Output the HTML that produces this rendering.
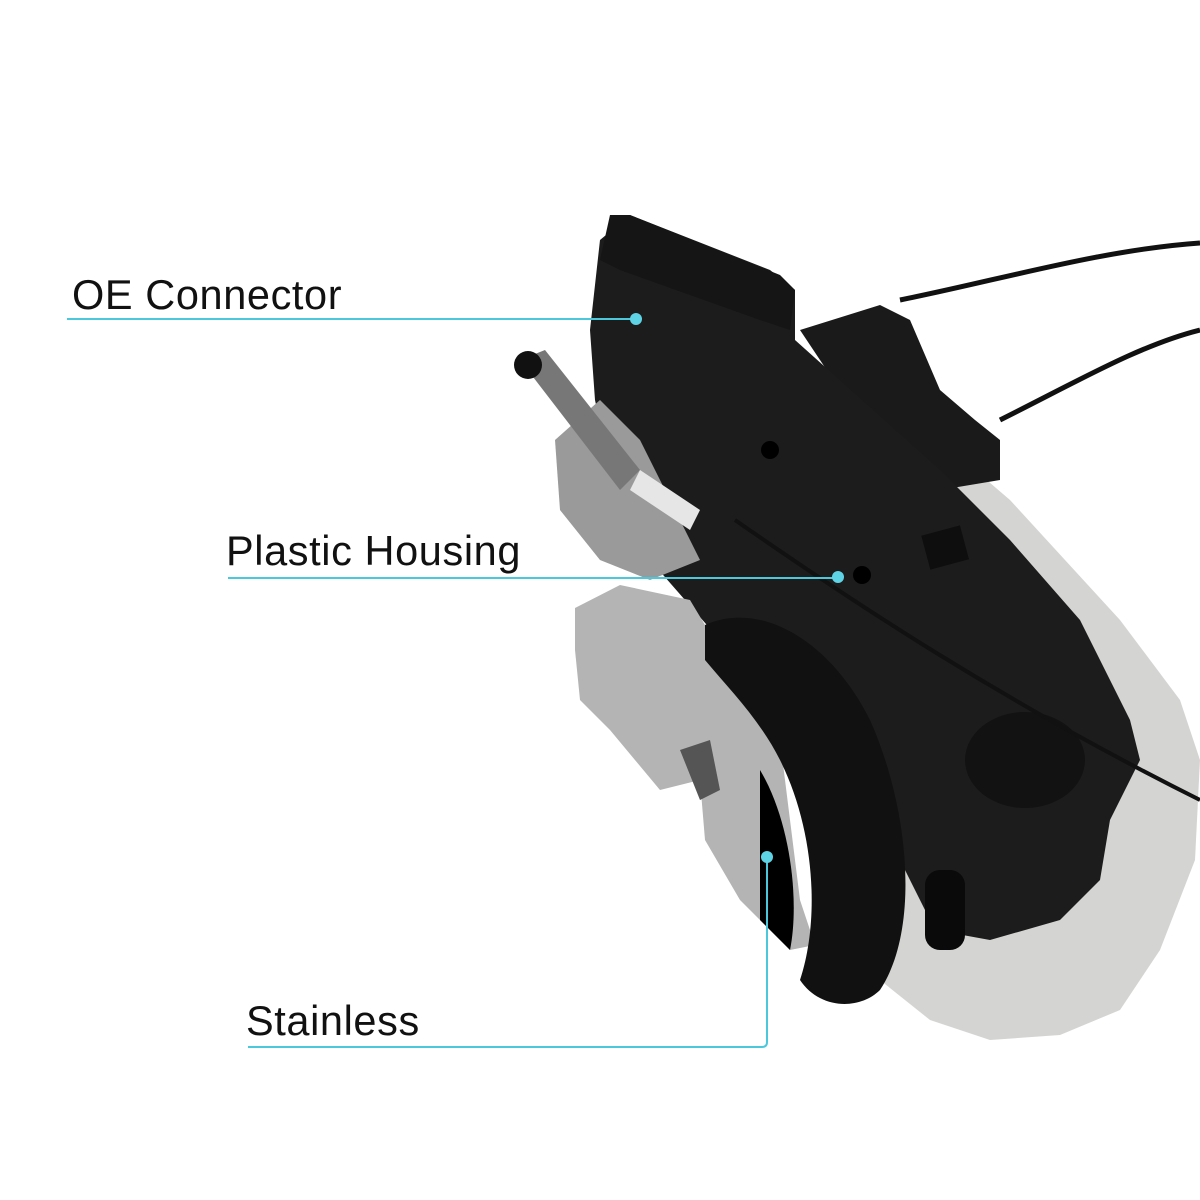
<!DOCTYPE html>
<html><head><meta charset="utf-8"><style>
html,body{margin:0;padding:0;background:#fff;}
.wrap{position:relative;width:1200px;height:1200px;overflow:hidden;background:#fff;}
.lbl{position:absolute;font-family:"Liberation Sans",sans-serif;font-size:41.5px;color:#111;letter-spacing:0.6px;line-height:1;}
</style></head><body><div class="wrap">
<svg width="1200" height="1200" viewBox="0 0 1200 1200" style="position:absolute;left:0;top:0">
<path d="M900 300 C1000 280 1100 250 1200 243" stroke="#111" stroke-width="5" fill="none"/>
<path d="M1000 420 C1080 380 1140 345 1200 330" stroke="#111" stroke-width="5" fill="none"/>
<path d="M930 480 L975 470 L1010 500 L1120 620 L1180 700 L1200 760 L1195 860 L1160 950 L1120 1010 L1060 1035 L990 1040 L930 1020 L880 980 L860 900 L900 700 Z" fill="#d4d4d2"/>
<path d="M800 330 L880 305 L910 320 L940 390 L975 420 L1000 440 L1000 480 L940 490 L880 450 Z" fill="#1a1a1a"/>
<path d="M600 240 L630 215 L770 270 L795 290 L795 340 L940 470 L1010 540 L1080 620 L1130 720 L1140 760 L1110 820 L1100 880 L1060 920 L990 940 L935 930 L900 860 L860 780 L800 700 L720 640 L650 560 L610 470 L595 400 L590 330 Z" fill="#1c1c1c"/>
<ellipse cx="1025" cy="760" rx="60" ry="48" fill="#121212"/>
<rect x="925" y="530" width="40" height="35" fill="#0e0e0e" transform="rotate(-15 945 547)"/>
<circle cx="770" cy="450" r="9" fill="#000"/><circle cx="862" cy="575" r="9" fill="#000"/>
<path d="M555 440 L600 400 L640 440 L680 520 L700 560 L650 580 L600 560 L560 510 Z" fill="#9a9a9a"/>
<path d="M520 360 L545 350 L640 470 L620 490 Z" fill="#777"/>
<circle cx="528" cy="365" r="14" fill="#111"/>
<path d="M640 470 L700 510 L690 530 L630 490 Z" fill="#e6e6e6"/>
<path d="M735 520 C850 600 1000 700 1200 800" stroke="#111" stroke-width="4" fill="none"/>
<path d="M575 608 L620 585 L690 600 L750 700 L780 740 L790 820 L800 900 L815 945 L790 950 L740 900 L705 840 L700 780 L660 790 L610 730 L580 700 L575 650 Z" fill="#b4b4b4"/>
<path d="M680 750 L710 740 L720 790 L700 800 Z" fill="#555"/>
<path d="M705 625 C760 600 830 640 870 720 C910 810 920 930 880 990 C860 1010 820 1010 800 980 C820 920 815 830 780 760 C760 720 730 690 705 660 Z" fill="#111"/>
<path d="M760 770 C790 820 800 900 790 950 L760 920 L760 800 Z" fill="#000"/>
<rect x="925" y="870" width="40" height="80" rx="15" fill="#0a0a0a"/>
<path d="M610 215 L630 215 L780 275 L795 290 L790 330 L760 320 L620 270 L600 260 Z" fill="#151515"/>
<g stroke="#4cc8dc" stroke-width="2" fill="none">
<path d="M67 319 H636"/>
<path d="M228 578 H838"/>
<path d="M248 1047 H762 Q767 1047 767 1042 V858"/>
</g>
<circle cx="636" cy="319" r="6" fill="#5fd3e6"/>
<circle cx="838" cy="577" r="6" fill="#5fd3e6"/>
<circle cx="767" cy="857" r="6" fill="#5fd3e6"/>
</svg>
<div class="lbl" style="left:72px;top:274px">OE Connector</div>
<div class="lbl" style="left:226px;top:530px">Plastic Housing</div>
<div class="lbl" style="left:246px;top:1000px">Stainless</div>
</div></body></html>
